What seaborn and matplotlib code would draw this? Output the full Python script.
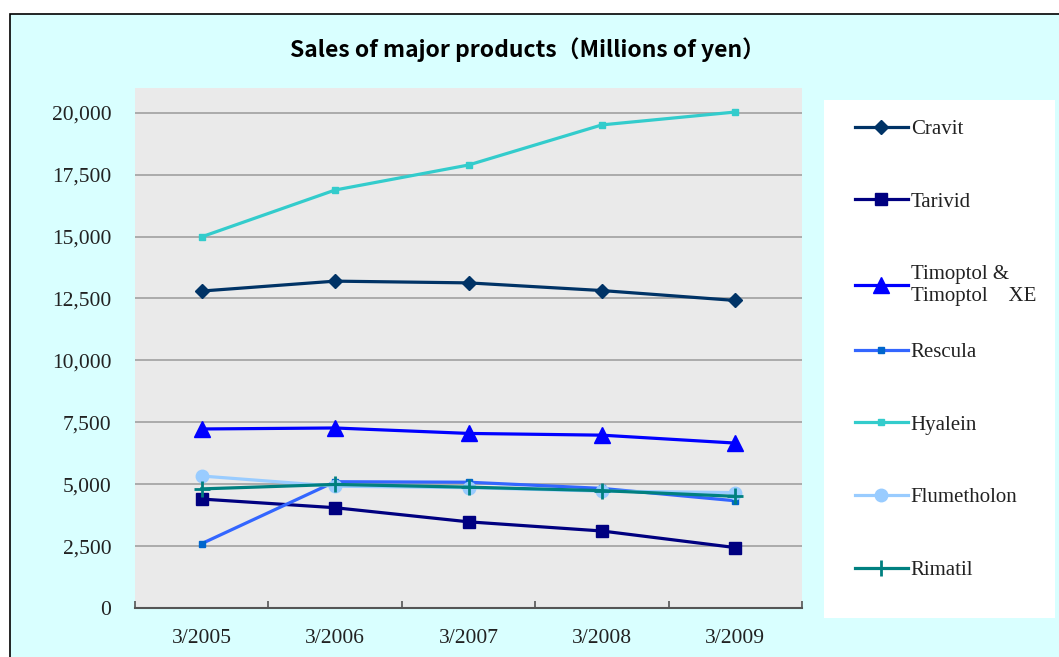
import matplotlib
matplotlib.use("Agg")
import matplotlib.pyplot as plt
import seaborn as sns
import pandas as pd
from matplotlib.patches import Rectangle
from matplotlib.lines import Line2D
from matplotlib.ticker import FuncFormatter, FixedLocator

# ---- data ----
years = ["3/2005", "3/2006", "3/2007", "3/2008", "3/2009"]
cravit = [12800, 13200, 13130, 12820, 12420]
tarivid = [4400, 4050, 3480, 3110, 2440]
timoptol = [7230, 7270, 7050, 6980, 6660]
rescula = [2600, 5100, 5080, 4830, 4330]
hyalein = [14990, 16880, 17890, 19510, 20030]
flumetholon = [5330, 4920, 4860, 4720, 4660]
rimatil = [4810, 4990, 4880, 4740, 4510]
series_names = ["Cravit", "Tarivid", "Timoptol &\nTimoptol\u3000XE", "Rescula",
                "Hyalein", "Flumetholon", "Rimatil"]
series_values = [cravit, tarivid, timoptol, rescula, hyalein, flumetholon, rimatil]
y_ticks = [0, 2500, 5000, 7500, 10000, 12500, 15000, 17500, 20000]
title = "Sales of major products\uff08Millions of yen\uff09"

# ---- styles ----
line_colors = ["#003366", "#000080", "#0000FF", "#3366FF", "#33CCCC", "#99CCFF", "#008080"]
marker_colors = ["#003366", "#000080", "#0000FF", "#0066CC", "#33CCCC", "#99CCFF", "#008080"]
markers = ["D", "s", "^", "s", "s", "o", "+"]
msizes = [7, 9, 11, 5, 5, 9, 11]

W, H = 1059, 657
fig = plt.figure(figsize=(W / 100, H / 100), dpi=100)
fig.patch.set_facecolor("white")
serif = ["Liberation Serif", "Noto Sans CJK JP", "DejaVu Serif"]

# background box
fig.patches.append(Rectangle((10 / W, -0.05), 1.1, (H - 14) / H + 0.05,
                             transform=fig.transFigure, facecolor="#D9FFFF",
                             edgecolor="black", linewidth=1.2, zorder=-3))
# legend box
fig.patches.append(Rectangle((824 / W, (H - 618) / H), (1055 - 824) / W, (618 - 100) / H,
                             transform=fig.transFigure, facecolor="white",
                             edgecolor="none", zorder=-2))

ax = fig.add_axes([135 / W, (H - 608) / H, 667 / W, (608 - 88) / H])
ax.set_zorder(1)
ax.set_facecolor("#EAEAEA")

for name, vals, lc, mc, mk, ms in zip(series_names, series_values, line_colors,
                                      marker_colors, markers, msizes):
    df = pd.DataFrame({"x": list(range(len(years))), "y": vals})
    sns.lineplot(data=df, x="x", y="y", ax=ax, color=lc, linewidth=2.3,
                 marker=mk, markersize=ms, markerfacecolor=mc, markeredgecolor=mc,
                 markeredgewidth=2 if mk == "+" else 1, zorder=3)

ax.set_xlim(-0.5, 4.5)
ax.set_ylim(0, 21000)
ax.set_yticks(y_ticks)
ax.yaxis.set_major_formatter(FuncFormatter(lambda v, p: f"{int(v):,}"))
ax.grid(axis="y", color="#A0A0A0", linewidth=1.2, zorder=1)
ax.set_axisbelow(True)
ax.tick_params(axis="y", length=0, pad=17, labelsize=15.5, labelcolor="#222222")
ax.set_xticks(range(len(years)))
ax.set_xticklabels(years)
ax.xaxis.set_minor_locator(FixedLocator([-0.5, 0.5, 1.5, 2.5, 3.5, 4.5]))
ax.tick_params(axis="x", which="major", length=0, pad=15, labelsize=15.5, labelcolor="#222222")
ax.tick_params(axis="x", which="minor", direction="in", length=5, width=1.2, color="#555555")
for lab in ax.get_xticklabels() + ax.get_yticklabels():
    lab.set_family(serif)
ax.set_xlabel("")
ax.set_ylabel("")
for s in ["left", "right", "top"]:
    ax.spines[s].set_visible(False)
ax.spines["bottom"].set_color("#555555")
ax.spines["bottom"].set_linewidth(1.5)

fig.text(527 / W, 1 - 50 / H, title, ha="center", va="center", fontsize=16.5,
         fontweight="bold", family=["Noto Sans CJK JP", "DejaVu Sans"], color="black")

handles = [Line2D([], [], color=lc, linewidth=2.3, marker=mk, markersize=ms,
                  markerfacecolor=mc, markeredgecolor=mc,
                  markeredgewidth=2 if mk == "+" else 1)
           for lc, mc, mk, ms in zip(line_colors, marker_colors, markers, msizes)]
leg_kw = dict(loc="upper left", frameon=False,
              prop={"family": serif, "size": 15}, labelspacing=2.55,
              handlelength=2.5, handletextpad=0.15, borderpad=0)
leg1 = fig.legend(handles[:3], series_names[:3],
                  bbox_to_anchor=(845 / W, 1 - 109 / H), **leg_kw)
leg2 = fig.legend(handles[3:], series_names[3:],
                  bbox_to_anchor=(845 / W, 1 - 332 / H), **leg_kw)
for lg in (leg1, leg2):
    for t in lg.get_texts():
        t.set_color("#222222")

fig.savefig("out.png", dpi=100, facecolor=fig.get_facecolor())
